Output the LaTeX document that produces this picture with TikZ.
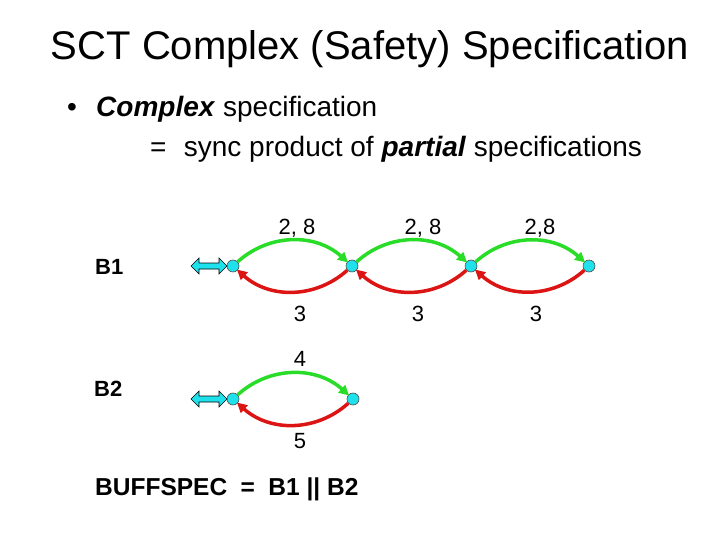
\documentclass[tikz,border=0pt]{standalone}
\usepackage{fontspec}
\setmainfont{Liberation Sans}
\usetikzlibrary{arrows.meta}
\definecolor{sgreen}{RGB}{40,220,40}
\definecolor{sred}{RGB}{220,20,20}
\definecolor{scyan}{RGB}{30,225,235}
\tikzset{
  state/.style={circle,draw=black!70,fill=scyan,line width=0.6pt,minimum size=12pt,inner sep=0pt},
  garrow/.style={draw=sgreen,line width=3.5pt,-{Triangle[length=10pt,width=10pt]},shorten >=-1pt},
  rarrow/.style={draw=sred,line width=3.5pt,-{Triangle[length=10pt,width=10pt]},shorten >=-1pt},
  lbl/.style={font=\fontsize{22}{26}\selectfont,anchor=base,inner sep=0pt},
  blbl/.style={font=\fontsize{22}{26}\selectfont\bfseries,anchor=base west,inner sep=0pt},
  body/.style={font=\fontsize{28}{32}\selectfont,anchor=base west,inner sep=0pt},
  initarrow/.style={draw=black,line width=0.6pt,fill=scyan}
}
\begin{document}
\begin{tikzpicture}[x=1pt,y=-1pt]
\useasboundingbox (0,0) rectangle (720,540);
\node[anchor=base,inner sep=0pt,font=\fontsize{40}{44}\selectfont] (title) at (370,60) {SCT Complex (Safety) Specification};
\node[body] (bul) at (67,117) {\textbullet};
\node[body] (l1) at (96,117) {\textbf{\textit{Complex}} specification};
\node[body] (l2) at (150,157) {=\hspace{0.62em}sync product of \textbf{\textit{partial}} specifications};

% B1 states
\node[state] (a1) at (233,266) {};
\node[state] (a2) at (352,266) {};
\node[state] (a3) at (471,266) {};
\node[state] (a4) at (589,266) {};
% B2 states
\node[state] (b1) at (233,399) {};
\node[state] (b2) at (353,399) {};

% initial double arrows
\draw[initarrow] (191,266) -- (199,258) -- (199,263) -- (219,263) -- (219,258) -- (227,266) -- (219,274) -- (219,269) -- (199,269) -- (199,274) -- cycle;
\draw[initarrow] (191,399) -- (199,391) -- (199,396) -- (219,396) -- (219,391) -- (227,399) -- (219,407) -- (219,402) -- (199,402) -- (199,407) -- cycle;

% B1 transitions
\draw[garrow] (a1) to[bend left=42] (a2);
\draw[garrow] (a2) to[bend left=42] (a3);
\draw[garrow] (a3) to[bend left=42] (a4);
\draw[rarrow] (a2) to[bend left=42] (a1);
\draw[rarrow] (a3) to[bend left=42] (a2);
\draw[rarrow] (a4) to[bend left=42] (a3);
% B2 transitions
\draw[garrow] (b1) to[bend left=42] (b2);
\draw[rarrow] (b2) to[bend left=42] (b1);

% labels
\node[lbl] (t1) at (297,234) {2, 8};
\node[lbl] (t2) at (423,234) {2, 8};
\node[lbl] (t3) at (540,234) {2,8};
\node[lbl] (u1) at (300,321) {3};
\node[lbl] (u2) at (418,321) {3};
\node[lbl] (u3) at (536,321) {3};
\node[lbl] (v1) at (300,366) {4};
\node[lbl] (v2) at (300,448) {5};

\node[blbl] (B1) at (95,274) {B1};
\node[blbl] (B2) at (94,396) {B2};
\node[blbl,font=\fontsize{24.5}{28}\selectfont\bfseries] (bs) at (95,495) {BUFFSPEC\hspace{0.55em}=\hspace{0.55em}B1 || B2};
\end{tikzpicture}
\end{document}
